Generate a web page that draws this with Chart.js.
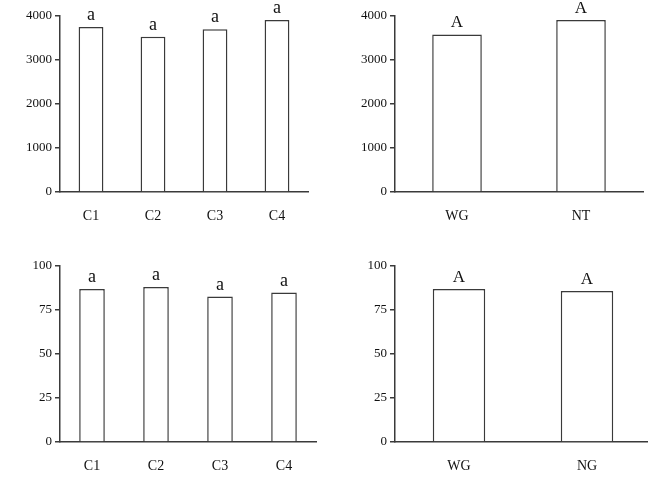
<!DOCTYPE html>
<html>
<head>
<meta charset="utf-8">
<script src="https://cdn.jsdelivr.net/npm/chart.js@4/dist/chart.umd.min.js"></script>
<style>
  html, body { margin: 0; padding: 0; background: #fff; }
  body { width: 648px; height: 487px; position: relative; overflow: hidden; }
  canvas { position: absolute; }
</style>
</head>
<body>
<canvas id="c1"></canvas>
<canvas id="c2"></canvas>
<canvas id="c3"></canvas>
<canvas id="c4"></canvas>
<script>
// Datos
const yieldCats = ['C1', 'C2', 'C3', 'C4'];
const yieldVals = [3750, 3530, 3700, 3910];
const yieldLetters = ['a', 'a', 'a', 'a'];

const tillCats = ['WG', 'NT'];
const tillVals = [3580, 3910];
const tillLetters = ['A', 'A'];

const rateCats = ['C1', 'C2', 'C3', 'C4'];
const rateVals = [86.9, 88.1, 82.6, 84.9];
const rateLetters = ['a', 'a', 'a', 'a'];

const rate2Cats = ['WG', 'NG'];
const rate2Vals = [86.9, 85.8];
const rate2Letters = ['A', 'A'];

const yieldTicks = [0, 1000, 2000, 3000, 4000];
const rateTicks = [0, 25, 50, 75, 100];

const SERIF = "'Liberation Serif', 'Times New Roman', 'DejaVu Serif', serif";
const LINE = '#3a3a3a';

// letras de significancia sobre cada barra
const lettersPlugin = {
  id: 'letters',
  afterDatasetsDraw(chart, args, opts) {
    const ctx = chart.ctx;
    const meta = chart.getDatasetMeta(0);
    ctx.save();
    ctx.fillStyle = '#111';
    ctx.font = opts.size + 'px ' + SERIF;
    ctx.textAlign = 'center';
    ctx.textBaseline = 'alphabetic';
    meta.data.forEach((bar, i) => {
      ctx.fillText(opts.labels[i], bar.x, bar.y - 7);
    });
    ctx.restore();
  }
};

function makePanel(id, pos, cats, vals, letters, ticks, letterSize, barPct) {
  const el = document.getElementById(id);
  el.style.left = pos.left + 'px';
  el.style.top = pos.top + 'px';
  el.width = pos.width;
  el.height = pos.height;

  new Chart(el, {
    type: 'bar',
    data: {
      labels: cats,
      datasets: [{
        data: vals,
        backgroundColor: '#fff',
        borderColor: LINE,
        borderWidth: 1.5,
        categoryPercentage: 1,
        barPercentage: barPct
      }]
    },
    options: {
      responsive: false,
      animation: false,
      devicePixelRatio: 1,
      layout: { padding: { top: 16, right: pos.padRight, left: 0, bottom: 0 } },
      plugins: {
        legend: { display: false },
        tooltip: { enabled: false },
        letters: { labels: letters, size: letterSize }
      },
      scales: {
        x: {
          grid: { display: false, drawTicks: false },
          border: { display: true, color: LINE, width: 1.5 },
          ticks: { color: '#111', padding: 16, font: { family: SERIF, size: 14 } },
          afterFit(scale) { scale.height = 48; }
        },
        y: {
          min: ticks[0],
          max: ticks[ticks.length - 1],
          afterBuildTicks(scale) { scale.ticks = ticks.map(v => ({ value: v })); },
          grid: { drawOnChartArea: false, drawTicks: true, tickLength: 5, color: LINE, lineWidth: 1.5 },
          border: { display: true, color: LINE, width: 1.5 },
          ticks: {
            color: '#111', padding: 3, font: { family: SERIF, size: 13 },
            callback: v => String(v)
          },
          afterFit(scale) { scale.width = pos.yWidth; }
        }
      }
    },
    plugins: [lettersPlugin]
  });
}

makePanel('c1', { left: 0, top: 0, width: 320, height: 240, yWidth: 60, padRight: 12 },
  yieldCats, yieldVals, yieldLetters, yieldTicks, 18, 0.4);
makePanel('c2', { left: 330, top: 0, width: 318, height: 240, yWidth: 65, padRight: 5 },
  tillCats, tillVals, tillLetters, yieldTicks, 17, 0.4);
makePanel('c3', { left: 0, top: 250, width: 330, height: 240, yWidth: 60, padRight: 14 },
  rateCats, rateVals, rateLetters, rateTicks, 18, 0.4);
makePanel('c4', { left: 330, top: 250, width: 330, height: 240, yWidth: 65, padRight: 9 },
  rate2Cats, rate2Vals, rate2Letters, rateTicks, 17, 0.41);
</script>
</body>
</html>
